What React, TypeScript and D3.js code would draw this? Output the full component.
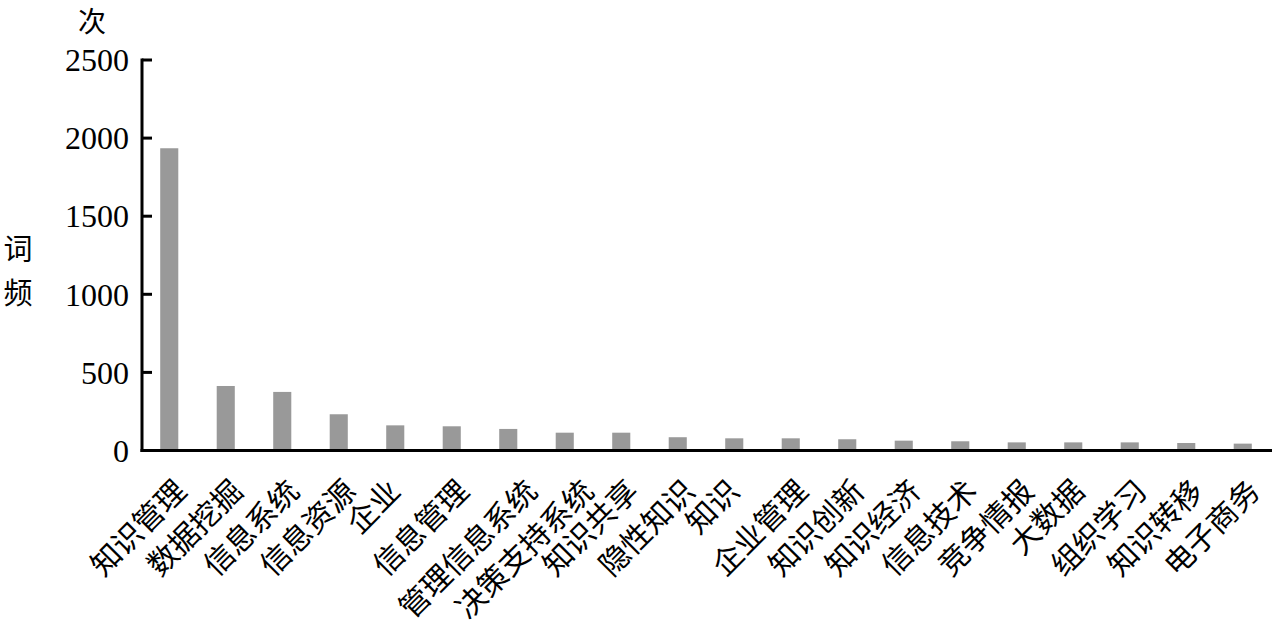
import React, { useEffect, useRef } from "react";
import * as d3 from "d3";

const categories = [
  "知识管理", "数据挖掘", "信息系统", "信息资源", "企业", "信息管理", "管理信息系统",
  "决策支持系统", "知识共享", "隐性知识", "知识", "企业管理", "知识创新", "知识经济",
  "信息技术", "竞争情报", "大数据", "组织学习", "知识转移", "电子商务",
];
const values = [1935, 413, 375, 232, 161, 155, 138, 114, 114, 85, 78, 78, 72, 63, 59, 52, 52, 52, 48, 44];
const yTicks = [0, 500, 1000, 1500, 2000, 2500];
const yUnit = "次";
const yTitle = ["词", "频"];

const W = 1274;
const H = 628;
const FONT = "'Liberation Serif', 'Noto Sans CJK SC', serif";

export default function App() {
  const ref = useRef<SVGSVGElement>(null);
  useEffect(() => {
    const svg = d3.select(ref.current);
    svg.selectAll("*").remove();
    const x = d3.scaleBand<string>().domain(categories).range([141, 1271]).paddingInner(0.68).paddingOuter(0.34);
    const y = d3.scaleLinear().domain([0, 2500]).range([450.5, 60]);

    // bars
    svg.append("g").selectAll("rect").data(values).join("rect")
      .attr("x", (_d, i) => x(categories[i])!)
      .attr("width", x.bandwidth())
      .attr("y", (d) => y(d))
      .attr("height", (d) => y(0) - y(d))
      .attr("fill", "#999999");

    // y axis line
    svg.append("line").attr("x1", 142).attr("x2", 142).attr("y1", y(2500) - 1.5).attr("y2", y(0) + 1.5)
      .attr("stroke", "#000").attr("stroke-width", 3);
    // x axis line
    svg.append("line").attr("x1", 140.5).attr("x2", 1272).attr("y1", y(0)).attr("y2", y(0))
      .attr("stroke", "#000").attr("stroke-width", 3);

    // y ticks
    const tg = svg.append("g");
    tg.selectAll("line").data(yTicks.filter((t) => t > 0)).join("line")
      .attr("x1", 142).attr("x2", 152).attr("y1", (d) => y(d)).attr("y2", (d) => y(d))
      .attr("stroke", "#000").attr("stroke-width", 3);
    tg.selectAll("text").data(yTicks).join("text")
      .attr("x", 129).attr("y", (d) => y(d)).attr("dy", "0.35em")
      .attr("text-anchor", "end").attr("font-family", FONT).attr("font-size", 32)
      .attr("fill", "#000").text((d) => String(d));

    // x labels (rotated, end anchored; longer labels sit slightly further right)
    svg.append("g").selectAll("text").data(categories).join("text")
      .attr("transform", (d) => `translate(${x(d)! + x.bandwidth() / 2 + 6 * d.length - 5},${493}) rotate(-45)`)
      .attr("text-anchor", "end").attr("font-family", FONT).attr("font-size", 30)
      .attr("fill", "#000").text((d) => d);

    // unit and title
    svg.append("text").attr("x", 92).attr("y", 32).attr("text-anchor", "middle")
      .attr("font-family", FONT).attr("font-size", 28).text(yUnit);
    svg.append("g").selectAll("text").data(yTitle).join("text")
      .attr("x", 18).attr("y", (_d, i) => 260 + i * 44).attr("text-anchor", "middle")
      .attr("font-family", FONT).attr("font-size", 29).text((d) => d);
  }, []);
  return (
    <svg ref={ref} width={W} height={H} style={{ position: "absolute", left: 0, top: 0, background: "#fff" }} />
  );
}
